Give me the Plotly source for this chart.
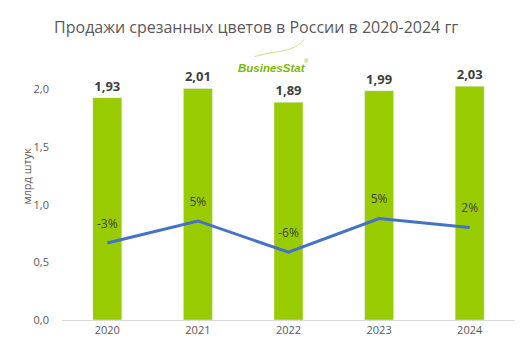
import plotly.graph_objects as go

years = ["2020", "2021", "2022", "2023", "2024"]
sales = [1.93, 2.01, 1.89, 1.99, 2.03]          # млрд штук
growth = [-2.9, 4.6, -6.0, 5.4, 2.4]            # % к предыдущему году
y_ticks = [0.0, 0.5, 1.0, 1.5, 2.0]

BAR = "#99CC00"
LINE = "#4472C4"
TXT = "#595959"
FONT = "Open Sans"

fig = go.Figure()
fig.add_trace(go.Bar(
    x=years, y=sales, marker_color=BAR, width=0.32,
    texttemplate="%{y:.2f}", textposition="outside",
    textfont=dict(size=13, color="#404040", family=FONT, weight="bold"),
    cliponaxis=False, hoverinfo="skip", showlegend=False))
fig.add_trace(go.Scatter(
    x=years, y=growth, yaxis="y2", mode="lines",
    line=dict(color=LINE, width=3), hoverinfo="skip", showlegend=False))
fig.add_trace(go.Scatter(
    x=years, y=growth, yaxis="y2", mode="markers+text",
    marker=dict(size=18, color="rgba(0,0,0,0)"),
    texttemplate="%{y:.0f}%", textposition="top center",
    textfont=dict(size=12, color="#404040", family=FONT),
    cliponaxis=False, hoverinfo="skip", showlegend=False))

fig.update_layout(
    width=527, height=364,
    margin=dict(l=62, r=12, t=32, b=44),
    paper_bgcolor="white", plot_bgcolor="white",
    separators=", ",
    font=dict(family=FONT, color=TXT),
    title=dict(text="Продажи срезанных цветов в России в 2020-2024 гг",
               x=0.486, xanchor="center", y=0.925, yanchor="middle",
               font=dict(size=16, color=TXT, family=FONT)),
    xaxis=dict(showgrid=False, showline=True, linecolor="#D9D9D9", linewidth=1,
               ticks="", tickfont=dict(size=11, color=TXT), automargin=False),
    yaxis=dict(range=[0, 2.5], tickvals=y_ticks, tickformat=".1f",
               showgrid=False, showline=False, zeroline=False, ticks="",
               tickfont=dict(size=11, color=TXT), ticklabelstandoff=12,
               automargin=False),
    yaxis2=dict(range=[-29, 68.7], overlaying="y", visible=False),
    bargap=0.68,
)

fig.add_annotation(xref="paper", yref="paper", x=-0.1015, y=0.50,
                   text="млрд штук", textangle=-90, showarrow=False,
                   font=dict(size=11, color=TXT, family=FONT))
fig.add_annotation(xref="paper", yref="paper", x=0.463, y=0.903,
                   text="<b><i>BusinesStat</i></b>", showarrow=False,
                   font=dict(size=11.5, color="#7AB800", family="Liberation Sans"))
fig.add_annotation(xref="paper", yref="paper", x=0.540, y=0.918,
                   text="®", showarrow=False,
                   font=dict(size=6, color="#7AB800", family="Liberation Sans"))
fig.add_shape(type="path", xref="paper", yref="paper",
              path="M 0.425 0.915 Q 0.46 0.93 0.49 0.935 Q 0.52 0.945 0.535 0.975",
              line=dict(color="#C9E28F", width=1))

fig.write_html("out.html", config={"displayModeBar": False},
               post_script="document.body.style.margin='0';")
